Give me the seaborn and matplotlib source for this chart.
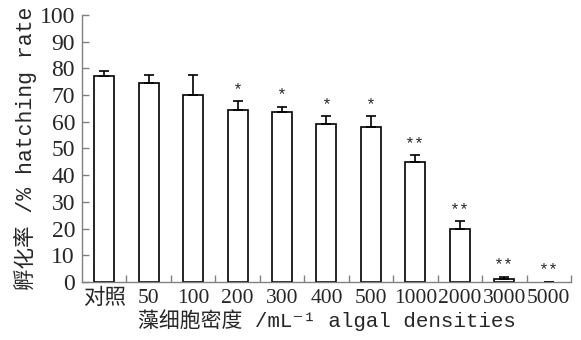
import numpy as np
import pandas as pd
import matplotlib
matplotlib.use('Agg')
import matplotlib.pyplot as plt
import seaborn as sns

# data
groups = ['对照', '50', '100', '200', '300', '400', '500', '1000', '2000', '3000', '5000']
rate = [77.0, 74.5, 70.0, 64.5, 63.5, 59.0, 58.0, 45.0, 19.7, 1.0, 0.0]
err = [2.2, 3.0, 7.4, 3.2, 2.0, 3.0, 4.0, 2.4, 3.0, 1.0, 0.0]
sig = ['', '', '', '*', '*', '*', '*', '**', '**', '**', '**']

df = pd.DataFrame({'group': groups, 'rate': rate})

sns.set_style('ticks')
serif = ['Liberation Serif', 'Noto Sans CJK SC', 'DejaVu Sans']
mono = ['Liberation Mono', 'Noto Sans CJK SC', 'DejaVu Sans']

fig = plt.figure(figsize=(5.81, 3.40), dpi=100)
ax = fig.add_axes([0.1411, 0.1706, 0.9828 - 0.1411, 0.9559 - 0.1706])

sns.barplot(data=df, x='group', y='rate', color='white', edgecolor='black',
            linewidth=1.2, width=0.45, errorbar=None, ax=ax)
# a zero-height bar leaves no outline in the original
for p, r in zip(ax.patches, rate):
    if r == 0:
        p.set_linewidth(0)

x = np.arange(len(groups))
ax.errorbar(x, rate, yerr=[np.zeros(len(err)), err], fmt='none', ecolor='black',
            elinewidth=1.2, capsize=3.6, capthick=1.2)

for xi, r, e, s in zip(x, rate, err, sig):
    if s:
        ax.text(xi, r + e + 4.5, s, ha='center', va='center', fontsize=12, family=mono)

ax.set_xlim(-0.5, len(groups) - 0.5)
ax.set_ylim(0, 100)
ax.set_yticks(range(0, 101, 10))

# ticks between categories on x, inward everywhere
ax.set_xticks(x)
ax.set_xticks(list(x + 0.5), minor=True)
ax.tick_params(axis='x', which='major', length=0, pad=5)
ax.tick_params(axis='x', which='minor', direction='in', length=5, color='#808080', width=1)
ax.tick_params(axis='y', direction='in', length=5, color='#808080', width=1, pad=5)

for lab in ax.get_xticklabels():
    lab.set_family(serif)
    lab.set_fontsize(15.5)
for lab in ax.get_yticklabels():
    lab.set_family(serif)
    lab.set_fontsize(17)

sns.despine(ax=ax)
for sp in ['left', 'bottom']:
    ax.spines[sp].set_color('#808080')
    ax.spines[sp].set_linewidth(1)

ax.set_ylabel('孵化率 /% hatching rate', family=mono, fontsize=15.5, labelpad=2)
ax.set_xlabel('藻细胞密度 /mL⁻¹ algal densities', family=mono, fontsize=15, labelpad=0)

fig.savefig('out.png', dpi=100)
